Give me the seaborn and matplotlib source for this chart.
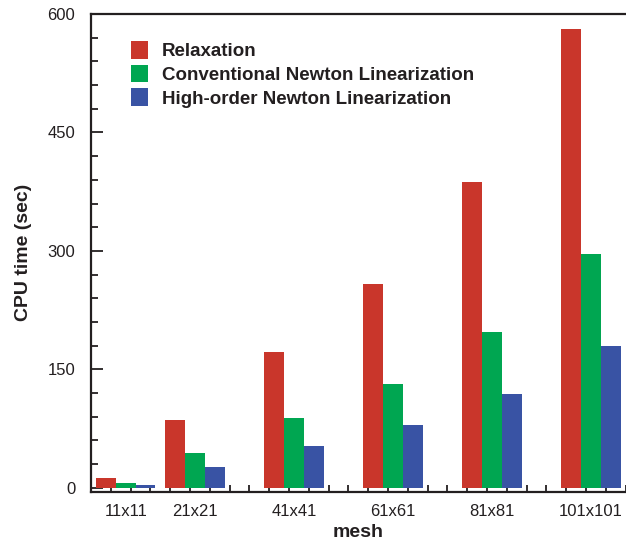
import numpy as np
import pandas as pd
import matplotlib
matplotlib.use("Agg")
import matplotlib.pyplot as plt
import seaborn as sns
from matplotlib.ticker import MultipleLocator

# ---- data ----
meshes = ["11x11", "21x21", "41x41", "61x61", "81x81", "101x101"]
mesh_pos = [7, 21, 41, 61, 81, 101]
methods = ["Relaxation", "Conventional Newton Linearization",
           "High-order Newton Linearization"]
relaxation = [12.5, 86, 172, 258, 387, 581]
conventional = [6, 44, 88, 131, 197, 296]
high_order = [3.5, 26, 53, 79, 119, 180]
colors = ["#C9362B", "#00A651", "#3953A4"]
y_ticks = [0, 150, 300, 450, 600]

sns.set_theme(style="ticks")
plt.rcParams["font.family"] = ["Liberation Sans", "DejaVu Sans"]
ink = "#231F20"

df = pd.DataFrame({
    "pos": mesh_pos * 3,
    "time": relaxation + conventional + high_order,
    "method": [m for m in methods for _ in mesh_pos],
})

W, H = 626, 544
fig = plt.figure(figsize=(W / 100, H / 100), dpi=100)
ax = fig.add_axes([91.1 / W, (H - 491.7) / H, 544.5 / W, 477.7 / H])

sns.barplot(data=df, x="pos", y="time", hue="method", hue_order=methods,
            palette=colors, native_scale=True, width=12 / 14, dodge=True,
            saturation=1, orient="x", errorbar=None, linewidth=0, ax=ax)

ax.set_xlim(0, 110)
ax.set_ylim(-5, 600)

# x ticks: long every 20, short every 4 (no labels)
ax.xaxis.set_major_locator(MultipleLocator(20))
ax.xaxis.set_minor_locator(MultipleLocator(4))
ax.tick_params(axis="x", which="both", direction="in", labelbottom=False,
               color=ink, width=1.3)
ax.tick_params(axis="x", which="major", length=8.6)
ax.tick_params(axis="x", which="minor", length=5)

# category labels at group positions
sec = ax.secondary_xaxis("bottom")
sec.set_xticks(mesh_pos, meshes)
sec.tick_params(length=0, pad=9.0, labelsize=12, labelcolor=ink)
for s in sec.spines.values():
    s.set_visible(False)

# y ticks
ax.set_yticks(y_ticks)
ax.yaxis.set_minor_locator(MultipleLocator(30))
ax.tick_params(axis="y", which="both", direction="in", color=ink, width=1.3,
               labelsize=12, labelcolor=ink, pad=11.5)
ax.tick_params(axis="y", which="major", length=8.6)
ax.tick_params(axis="y", which="minor", length=5)

for side in ["left", "bottom", "top"]:
    ax.spines[side].set_linewidth(1.6)
    ax.spines[side].set_color(ink)
ax.spines["right"].set_visible(False)

ax.set_xlabel("mesh", fontsize=14, fontweight="bold", color=ink)
ax.set_ylabel("CPU time (sec)", fontsize=14, fontweight="bold", color=ink)
ax.xaxis.set_label_coords((358.5 - 91.1) / 544.5, -(524 - 491.7) / 477.7)
ax.yaxis.set_label_coords((32 - 91.1) / 544.5, 0.5)

handles, labels = ax.get_legend_handles_labels()
if ax.get_legend() is not None:
    ax.get_legend().remove()
leg = fig.legend(handles, labels, loc="upper left",
                 bbox_to_anchor=(130.7 / W, 1 - 41 / H), frameon=False,
                 prop={"weight": "bold", "size": 13.5}, handlelength=0.9,
                 handleheight=1.07, handletextpad=0.75, labelspacing=0.24,
                 borderpad=0, borderaxespad=0)
for t in leg.get_texts():
    t.set_color(ink)

fig.savefig("out.png", dpi=100)
